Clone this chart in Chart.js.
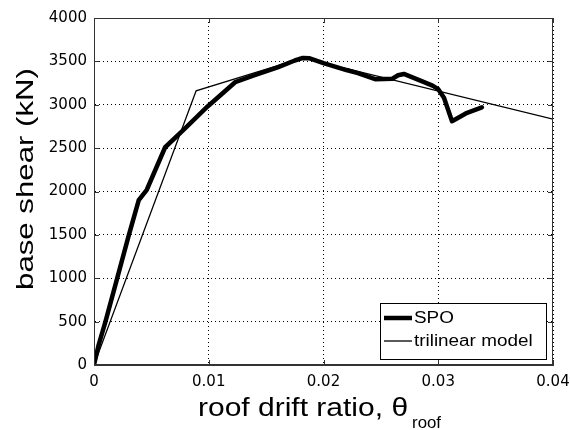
<!DOCTYPE html>
<html>
<head>
<meta charset="utf-8">
<script src="https://cdn.jsdelivr.net/npm/chart.js@4/dist/chart.umd.min.js"></script>
<style>
  body { margin: 0; background: #fff; }
  #wrap { width: 570px; height: 430px; }
</style>
</head>
<body>
<div id="wrap"><canvas id="spoChart" width="570" height="430"></canvas></div>
<script>
// SPO curve (roof drift ratio vs base shear in kN)
const spoDrift = [0, 0.0004, 0.001, 0.002, 0.003, 0.0039, 0.0046, 0.0062, 0.0078, 0.0099,
  0.0123, 0.014, 0.016, 0.0175, 0.0182, 0.0188, 0.020, 0.021, 0.022, 0.023,
  0.0245, 0.026, 0.0265, 0.027, 0.0285, 0.0295, 0.030, 0.0305, 0.0312, 0.0324, 0.0338];
const spoShear = [0, 230, 500, 990, 1480, 1900, 2020, 2510, 2710, 2980,
  3260, 3340, 3430, 3510, 3540, 3535, 3480, 3440, 3400, 3365,
  3295, 3300, 3340, 3355, 3275, 3220, 3180, 3080, 2810, 2900, 2970];

// trilinear model
const triDrift = [0, 0.0089, 0.0182, 0.04];
const triShear = [0, 3160, 3540, 2835];

// axis ticks
const xTicks = [0, 0.01, 0.02, 0.03, 0.04];
const xTickLabels = ["0", "0.01", "0.02", "0.03", "0.04"];
const yTicks = [0, 500, 1000, 1500, 2000, 2500, 3000, 3500, 4000];

const FONT = '"Liberation Sans", Arial, Helvetica, sans-serif';
const TICK_FONT = '"DejaVu Sans", "Liberation Sans", sans-serif';
Chart.defaults.font.family = FONT;
Chart.defaults.color = "#000";

const toPoints = (xs, ys) => xs.map((x, i) => ({ x: x, y: ys[i] }));

// text stretched sideways, the reference's fonts are wide
function wideText(ctx, text, x, y, sx) {
  ctx.save();
  ctx.translate(x, y);
  ctx.scale(sx, 1);
  ctx.fillText(text, 0, 0);
  ctx.restore();
}

// box, inward ticks, axis titles and legend (matlab style)
const matlabPlugin = {
  id: "matlabDecor",
  afterDraw: (chart) => {
    const { ctx, chartArea } = chart;
    const { left, right, top, bottom } = chartArea;
    const xs = chart.scales.x;
    const ys = chart.scales.y;

    ctx.save();
    // axes box
    ctx.strokeStyle = "#333";
    ctx.lineWidth = 1;
    ctx.setLineDash([]);
    ctx.strokeRect(left + 0.5, top + 0.5, right - left - 1, bottom - top - 1);

    // inward tick marks
    ctx.beginPath();
    xTicks.forEach((v) => {
      const px = Math.round(xs.getPixelForValue(v)) + 0.5;
      ctx.moveTo(px, bottom); ctx.lineTo(px, bottom - 5);
      ctx.moveTo(px, top); ctx.lineTo(px, top + 5);
    });
    yTicks.forEach((v) => {
      const py = Math.round(ys.getPixelForValue(v)) + 0.5;
      ctx.moveTo(left, py); ctx.lineTo(left + 5, py);
      ctx.moveTo(right, py); ctx.lineTo(right - 5, py);
    });
    ctx.stroke();

    // x title with subscript
    const mainText = "roof drift ratio, \u03b8";
    const subText = "roof";
    ctx.fillStyle = "#000";
    ctx.textBaseline = "alphabetic";
    ctx.textAlign = "left";
    ctx.font = "25px " + FONT;
    const w1 = ctx.measureText(mainText).width * 1.2;
    ctx.font = "16px " + FONT;
    const w2 = ctx.measureText(subText).width * 1.05;
    const x0 = (left + right) / 2 - 6 - (w1 + w2) / 2;
    ctx.font = "25px " + FONT;
    wideText(ctx, mainText, x0, 416, 1.2);
    ctx.font = "16px " + FONT;
    wideText(ctx, subText, x0 + w1 + 4, 428, 1.05);

    // y title
    ctx.save();
    ctx.translate(26, 179);
    ctx.rotate(-Math.PI / 2);
    ctx.scale(1.3, 1);
    ctx.textAlign = "center";
    ctx.textBaseline = "middle";
    ctx.font = "24px " + FONT;
    ctx.fillText("base shear (kN)", 0, 0);
    ctx.restore();

    // legend in lower right corner
    const lw = 166, lh = 56;
    const lx = right - 7 - lw, ly = bottom - 6 - lh;
    ctx.fillStyle = "#fff";
    ctx.fillRect(lx, ly, lw, lh);
    ctx.strokeStyle = "#000";
    ctx.lineWidth = 1;
    ctx.strokeRect(lx + 0.5, ly + 0.5, lw, lh);
    ctx.font = "16px " + FONT;
    ctx.textBaseline = "middle";
    chart.data.datasets.forEach((ds, i) => {
      const yy = ly + 15 + i * 23;
      ctx.strokeStyle = ds.borderColor;
      ctx.lineWidth = ds.borderWidth;
      ctx.beginPath();
      ctx.moveTo(lx + 4, yy);
      ctx.lineTo(lx + 32, yy);
      ctx.stroke();
      ctx.fillStyle = "#000";
      wideText(ctx, ds.label, lx + 34, yy + 1, 1.18);
    });
    ctx.restore();
  },
};

const ctx = document.getElementById("spoChart").getContext("2d");

const gridOpts = {
  color: "#000",
  lineWidth: 1,
  drawTicks: false,
  borderDash: [1, 3],
};
const borderOpts = { display: true, color: "#333", width: 1, dash: [1, 3] };

new Chart(ctx, {
  type: "scatter",
  data: {
    datasets: [
      {
        label: "SPO",
        data: toPoints(spoDrift, spoShear),
        showLine: true,
        borderColor: "#000",
        borderWidth: 4.5,
        pointRadius: 0,
        tension: 0,
        borderJoinStyle: "round",
        borderCapStyle: "round",
      },
      {
        label: "trilinear model",
        data: toPoints(triDrift, triShear),
        showLine: true,
        borderColor: "#000",
        borderWidth: 1.3,
        pointRadius: 0,
        tension: 0,
      },
    ],
  },
  options: {
    responsive: false,
    animation: false,
    layout: { padding: { top: 18, right: 17, left: 0, bottom: 0 } },
    plugins: {
      legend: { display: false },
      tooltip: { enabled: false },
    },
    scales: {
      x: {
        type: "linear",
        min: 0,
        max: 0.04,
        afterFit: (s) => { s.height = 65; s.paddingLeft = 0; s.paddingRight = 0; },
        afterBuildTicks: (s) => { s.ticks = xTicks.map((v) => ({ value: v })); },
        ticks: {
          padding: 8,
          font: { size: 15, family: TICK_FONT },
          maxRotation: 0,
          callback: (v) => xTickLabels[xTicks.indexOf(v)] ?? "",
        },
        grid: gridOpts,
        border: borderOpts,
      },
      y: {
        type: "linear",
        min: 0,
        max: 4000,
        afterFit: (s) => { s.width = 94; s.paddingTop = 0; s.paddingBottom = 0; },
        afterBuildTicks: (s) => { s.ticks = yTicks.map((v) => ({ value: v })); },
        ticks: {
          padding: 7,
          font: { size: 15, family: TICK_FONT },
          callback: (v) => String(v),
        },
        grid: gridOpts,
        border: borderOpts,
      },
    },
  },
  plugins: [matlabPlugin],
});
</script>
</body>
</html>
